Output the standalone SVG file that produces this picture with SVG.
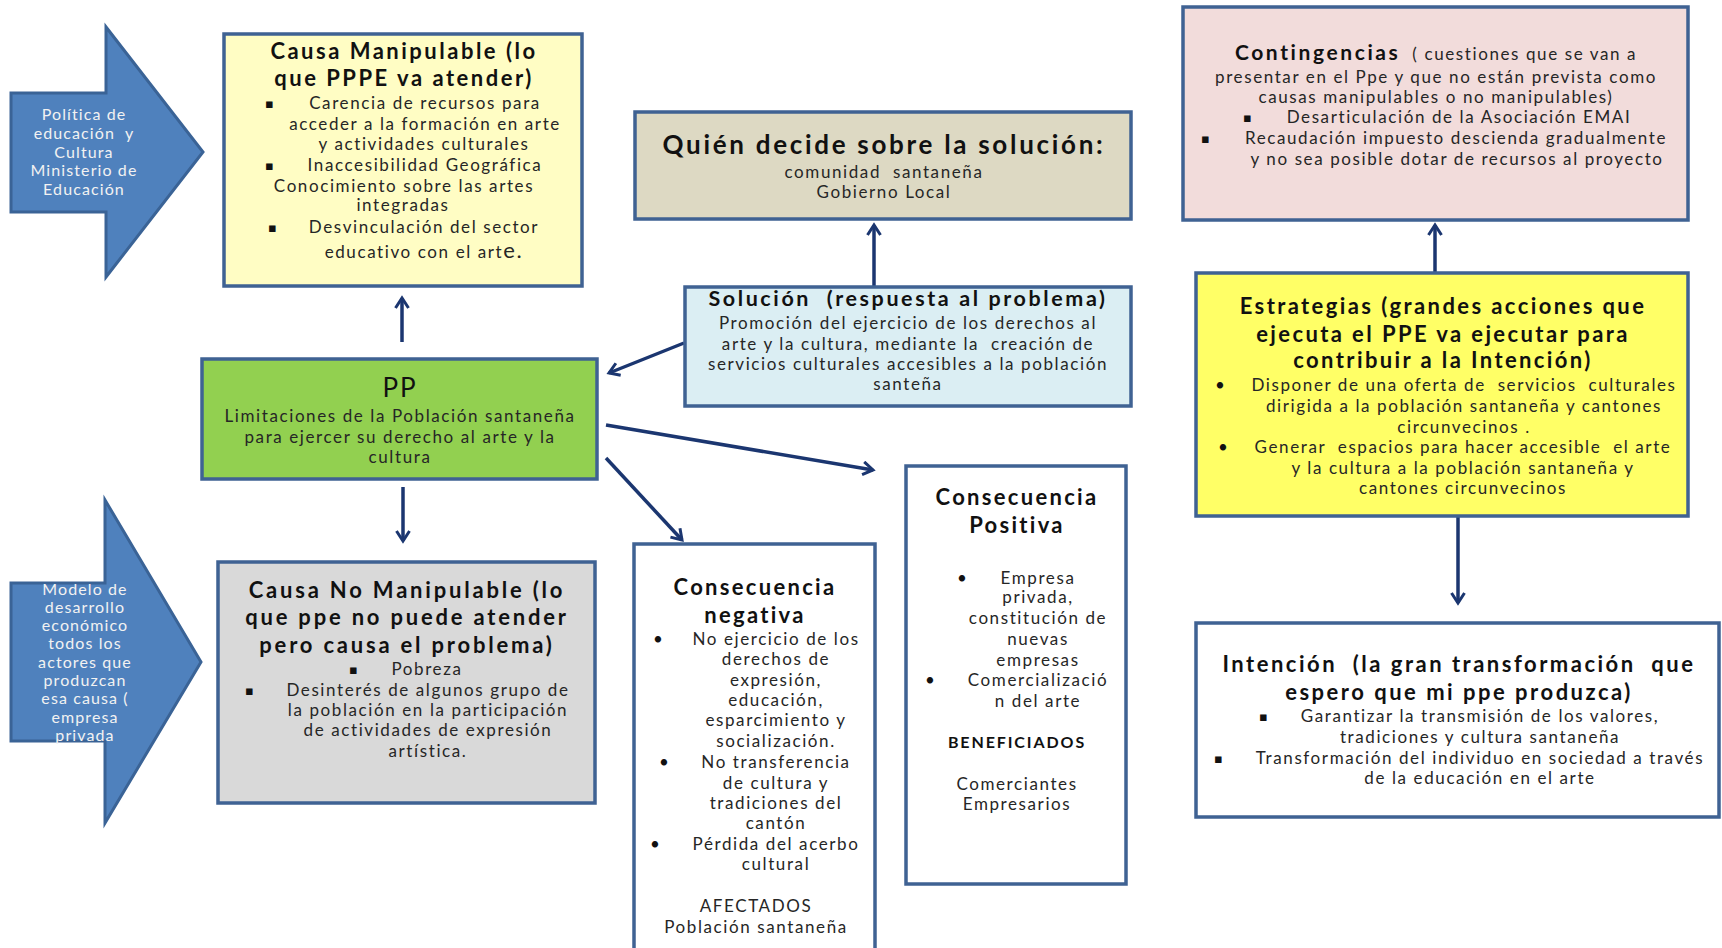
<svg xmlns="http://www.w3.org/2000/svg" width="1722" height="948" viewBox="0 0 1722 948">
<defs>
<style>
text{white-space:pre}
.box{stroke:#3F6293;stroke-width:3.5}
.blk{fill:#4F81BD;stroke:#3A6396;stroke-width:3}
.t{font-family:Lato,"Liberation Sans",sans-serif;fill:#111;font-weight:bold;text-anchor:middle;font-size:22px;letter-spacing:2.5px}
.pp{font-family:Lato,"Liberation Sans",sans-serif;fill:#111;text-anchor:middle;font-size:26px;letter-spacing:2px}
.b{font-family:Lato,"Liberation Sans",sans-serif;fill:#262626;font-size:17px;letter-spacing:1.6px;text-anchor:middle}
.w{font-family:Lato,"Liberation Sans",sans-serif;fill:#F2F2F2;font-size:16px;letter-spacing:1.1px;text-anchor:middle}
.bl{font-family:"DejaVu Sans",sans-serif;fill:#111;font-size:13px}
.dot{font-family:Lato,"Liberation Sans",sans-serif;fill:#111;font-size:17px}
.con{stroke:#1B3670;stroke-width:3.5;fill:none}
</style>
<marker id="ah" viewBox="0 0 16 16" refX="13" refY="8" markerWidth="16" markerHeight="16" markerUnits="userSpaceOnUse" orient="auto">
<path d="M3,1.5 L13,8 L3,14.5" fill="none" stroke="#1B3670" stroke-width="3"/>
</marker>
</defs>
<rect width="1722" height="948" fill="#fff"/>

<g id="connectors">
<line class="con" x1="402" y1="342" x2="402" y2="298" marker-end="url(#ah)"/>
<line class="con" x1="403" y1="487" x2="403" y2="541" marker-end="url(#ah)"/>
<line class="con" x1="684" y1="343" x2="609" y2="373" marker-end="url(#ah)"/>
<line class="con" x1="874" y1="287" x2="874" y2="225" marker-end="url(#ah)"/>
<line class="con" x1="606" y1="425" x2="873" y2="470" marker-end="url(#ah)"/>
<line class="con" x1="606" y1="458" x2="682" y2="540" marker-end="url(#ah)"/>
<line class="con" x1="1435" y1="272" x2="1435" y2="225" marker-end="url(#ah)"/>
<line class="con" x1="1458" y1="516" x2="1458" y2="603" marker-end="url(#ah)"/>
</g>

<g id="arrow-politica">
<path class="blk" d="M11,93 L106,93 L106,27 L203,152 L106,277 L106,212 L11,212 Z"/>
<text class="w" x="84" y="120">Política de</text>
<text class="w" x="84" y="139">educación  y</text>
<text class="w" x="84" y="158">Cultura</text>
<text class="w" x="84" y="176">Ministerio de</text>
<text class="w" x="84" y="195">Educación</text>
</g>

<g id="causa-manipulable">
<rect class="box" x="224" y="34" width="358" height="252" fill="#FFFDC4"/>
<text class="t" x="404" y="59">Causa Manipulable (lo</text>
<text class="t" x="404" y="86">que PPPE va atender)</text>
<text class="bl" x="265" y="108">▪</text>
<text class="b" x="425" y="109">Carencia de recursos para</text>
<text class="b" x="425" y="130">acceder a la formación en arte</text>
<text class="b" x="424" y="150">y actividades culturales</text>
<text class="bl" x="265" y="170">▪</text>
<text class="b" x="425" y="171">Inaccesibilidad Geográfica</text>
<text class="b" x="404" y="192">Conocimiento sobre las artes</text>
<text class="b" x="403" y="211">integradas</text>
<text class="bl" x="268" y="232">▪</text>
<text class="b" x="424" y="233">Desvinculación del sector</text>
<text class="b" x="424" y="258">educativo con el art<tspan style="font-size:22px">e.</tspan></text>
</g>

<g id="quien-decide">
<rect class="box" x="635" y="112" width="496" height="107" fill="#DDD9C3"/>
<text class="t" x="884" y="154" style="font-size:26px;letter-spacing:2.7px">Quién decide sobre la solución:</text>
<text class="b" x="884" y="178">comunidad  santaneña</text>
<text class="b" x="884" y="198">Gobierno Local</text>
</g>

<g id="solucion">
<rect class="box" x="685" y="287" width="446" height="119" fill="#DBEEF3"/>
<text class="t" x="908" y="306" style="font-size:21.5px;letter-spacing:2.6px">Solución  (respuesta al problema)</text>
<text class="b" x="908" y="329">Promoción del ejercicio de los derechos al</text>
<text class="b" x="908" y="350">arte y la cultura, mediante la  creación de</text>
<text class="b" x="908" y="370">servicios culturales accesibles a la población</text>
<text class="b" x="908" y="390">santeña</text>
</g>

<g id="pp">
<rect class="box" x="202" y="359" width="395" height="120" fill="#92D050"/>
<text class="pp" x="400" y="397">PP</text>
<text class="b" x="400" y="422">Limitaciones de la Población santaneña</text>
<text class="b" x="400" y="443">para ejercer su derecho al arte y la</text>
<text class="b" x="400" y="463">cultura</text>
</g>

<g id="contingencias">
<rect class="box" x="1183" y="7" width="505" height="213" fill="#F2DCDB"/>
<text class="b" x="1436" y="60"><tspan style="font-weight:bold;font-size:21px;letter-spacing:2.6px;fill:#111">Contingencias</tspan>  ( cuestiones que se van a</text>
<text class="b" x="1436" y="83">presentar en el Ppe y que no están prevista como</text>
<text class="b" x="1436" y="103">causas manipulables o no manipulables)</text>
<text class="bl" x="1243" y="122">▪</text>
<text class="b" x="1459" y="123">Desarticulación de la Asociación EMAI</text>
<text class="bl" x="1201" y="143">▪</text>
<text class="b" x="1456" y="144">Recaudación impuesto descienda gradualmente</text>
<text class="b" x="1457" y="165">y no sea posible dotar de recursos al proyecto</text>
</g>

<g id="estrategias">
<rect class="box" x="1196" y="273" width="492" height="243" fill="#FFFF66"/>
<text class="t" x="1443" y="314" style="letter-spacing:2.4px">Estrategias (grandes acciones que</text>
<text class="t" x="1443" y="342" style="letter-spacing:2.4px">ejecuta el PPE va ejecutar para</text>
<text class="t" x="1443" y="368" style="letter-spacing:2.4px">contribuir a la Intención)</text>
<text class="dot" x="1215" y="391">•</text>
<text class="b" x="1464" y="391">Disponer de una oferta de  servicios  culturales</text>
<text class="b" x="1464" y="412">dirigida a la población santaneña y cantones</text>
<text class="b" x="1464" y="433">circunvecinos .</text>
<text class="dot" x="1218" y="453">•</text>
<text class="b" x="1463" y="453">Generar  espacios para hacer accesible  el arte</text>
<text class="b" x="1463" y="474">y la cultura a la población santaneña y</text>
<text class="b" x="1463" y="494">cantones circunvecinos</text>
</g>

<g id="causa-no-manipulable">
<rect class="box" x="218" y="562" width="377" height="241" fill="#D9D9D9"/>
<text class="t" x="407" y="598" style="letter-spacing:2.8px">Causa No Manipulable (lo</text>
<text class="t" x="407" y="625" style="letter-spacing:2.8px">que ppe no puede atender</text>
<text class="t" x="407" y="653" style="letter-spacing:2.8px">pero causa el problema)</text>
<text class="bl" x="349" y="674">▪</text>
<text class="b" x="427" y="675">Pobreza</text>
<text class="bl" x="245" y="695">▪</text>
<text class="b" x="428" y="696">Desinterés de algunos grupo de</text>
<text class="b" x="428" y="716">la población en la participación</text>
<text class="b" x="428" y="736">de actividades de expresión</text>
<text class="b" x="428" y="757">artística.</text>
</g>

<g id="arrow-modelo">
<path class="blk" d="M11,583 L105,583 L105,500 L201,662 L105,823 L105,741 L11,741 Z"/>
<text class="w" x="85" y="595">Modelo de</text>
<text class="w" x="85" y="613">desarrollo</text>
<text class="w" x="85" y="631">económico</text>
<text class="w" x="85" y="649">todos los</text>
<text class="w" x="85" y="668">actores que</text>
<text class="w" x="85" y="686">produzcan</text>
<text class="w" x="85" y="704">esa causa (</text>
<text class="w" x="85" y="723">empresa</text>
<text class="w" x="85" y="741">privada</text>
</g>

<g id="consecuencia-negativa">
<rect class="box" x="634" y="544" width="241" height="420" fill="#fff"/>
<text class="t" x="755" y="595" style="letter-spacing:2.3px">Consecuencia</text>
<text class="t" x="755" y="623" style="letter-spacing:2.3px">negativa</text>
<text class="dot" x="653" y="645">•</text>
<text class="b" x="776" y="645">No ejercicio de los</text>
<text class="b" x="776" y="665">derechos de</text>
<text class="b" x="776" y="686">expresión,</text>
<text class="b" x="776" y="706">educación,</text>
<text class="b" x="776" y="726">esparcimiento y</text>
<text class="b" x="776" y="747">socialización.</text>
<text class="dot" x="659" y="768">•</text>
<text class="b" x="776" y="768">No transferencia</text>
<text class="b" x="776" y="789">de cultura y</text>
<text class="b" x="776" y="809">tradiciones del</text>
<text class="b" x="776" y="829">cantón</text>
<text class="dot" x="650" y="850">•</text>
<text class="b" x="776" y="850">Pérdida del acerbo</text>
<text class="b" x="776" y="870">cultural</text>
<text class="b" x="756" y="912">AFECTADOS</text>
<text class="b" x="756" y="933">Población santaneña</text>
</g>

<g id="consecuencia-positiva">
<rect class="box" x="906" y="466" width="220" height="418" fill="#fff"/>
<text class="t" x="1017" y="505" style="letter-spacing:2.3px">Consecuencia</text>
<text class="t" x="1017" y="533" style="letter-spacing:2.3px">Positiva</text>
<text class="dot" x="957" y="584">•</text>
<text class="b" x="1038" y="584">Empresa</text>
<text class="b" x="1038" y="603">privada,</text>
<text class="b" x="1038" y="624">constitución de</text>
<text class="b" x="1038" y="645">nuevas</text>
<text class="b" x="1038" y="666">empresas</text>
<text class="dot" x="925" y="686">•</text>
<text class="b" x="1038" y="686">Comercializació</text>
<text class="b" x="1038" y="707">n del arte</text>
<text class="t" x="1017" y="748" style="font-size:16px;letter-spacing:1.9px">BENEFICIADOS</text>
<text class="b" x="1017" y="790">Comerciantes</text>
<text class="b" x="1017" y="810">Empresarios</text>
</g>

<g id="intencion">
<rect class="box" x="1196" y="623" width="523" height="194" fill="#fff"/>
<text class="t" x="1459" y="672">Intención  (la gran transformación  que</text>
<text class="t" x="1459" y="700">espero que mi ppe produzca)</text>
<text class="bl" x="1259" y="721">▪</text>
<text class="b" x="1480" y="722">Garantizar la transmisión de los valores,</text>
<text class="b" x="1480" y="743">tradiciones y cultura santaneña</text>
<text class="bl" x="1214" y="763">▪</text>
<text class="b" x="1480" y="764">Transformación del individuo en sociedad a través</text>
<text class="b" x="1480" y="784">de la educación en el arte</text>
</g>
</svg>
